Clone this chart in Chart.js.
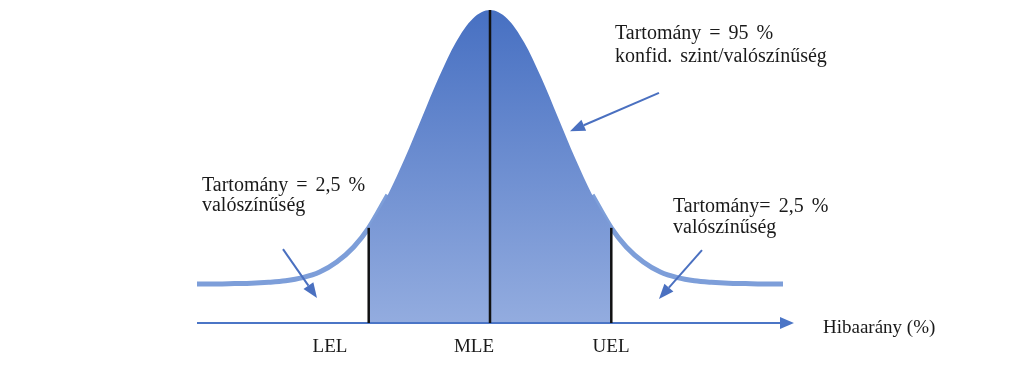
<!DOCTYPE html>
<html>
<head>
<meta charset="utf-8">
<script src="https://cdn.jsdelivr.net/npm/chart.js@4/dist/chart.umd.min.js"></script>
<style>
  html, body { margin: 0; padding: 0; background: #fff; }
  #wrap { width: 1024px; height: 377px; position: relative; }
</style>
</head>
<body>
<div id="wrap"><canvas id="c"></canvas></div>
<script>
// curve (x in sigma units, y in % of peak height above baseline)
var curveX = [-4.3, -4.0, -3.75, -3.5, -3.25, -3.0, -2.75, -2.5, -2.25, -2.0, -1.78, -1.5, -1.25, -1.0, -0.75, -0.5, -0.25, 0,
              0.25, 0.5, 0.75, 1.0, 1.25, 1.5, 1.78, 2.0, 2.25, 2.5, 2.75, 3.0, 3.25, 3.5, 3.75, 4.0, 4.3];
var curveY = [12.5, 12.5, 12.6, 12.7, 13.0, 13.5, 14.5, 16.3, 19.5, 24.3, 30.4, 40.9, 52.6, 65.6, 78.5, 89.7, 97.3, 100,
              97.3, 89.7, 78.5, 65.6, 52.6, 40.9, 30.4, 24.3, 19.5, 16.3, 14.5, 13.5, 13.0, 12.7, 12.6, 12.5, 12.5];

// limits
var limitNames = ['LEL', 'MLE', 'UEL'];
var limitX = [-1.78, 0, 1.78];
var limitTop = [30.4, 100, 30.4];
var axisTitle = 'Hibaarány (%)';

var notes = [
  ['Tartomány = 95 %', 'konfid. szint/valószínűség'],
  ['Tartomány = 2,5 %', 'valószínűség'],
  ['Tartomány= 2,5 %', 'valószínűség']
];

function pts(lo, hi) {
  var out = [];
  for (var i = 0; i < curveX.length; i++) {
    if (curveX[i] >= lo - 1e-9 && curveX[i] <= hi + 1e-9) out.push({ x: curveX[i], y: curveY[i] });
  }
  return out;
}

var X_MIN = -4.3, X_MAX = 4.3;
var datasets = [];

// vertical limit lines
limitX.forEach(function(lx, i) {
  datasets.push({ data: [{ x: lx, y: 0 }, { x: lx, y: limitTop[i] }], borderColor: '#111', borderWidth: 2.5,
    pointRadius: 0, fill: false, order: 0, clip: false });
});
// baseline
datasets.push({ data: [{ x: X_MIN, y: 0 }, { x: X_MAX, y: 0 }], borderColor: '#4b75c6', borderWidth: 2,
  pointRadius: 0, fill: false, order: 1, clip: false });
// 95% area (drawn over the tails)
datasets.push({ data: pts(limitX[0], limitX[2]), borderWidth: 0, borderColor: 'rgba(0,0,0,0)', pointRadius: 0,
  cubicInterpolationMode: 'monotone', order: 2, clip: false, fill: 'origin',
  backgroundColor: function(ctx) {
    var ca = ctx.chart.chartArea;
    if (!ca) return '#6f93d3';
    var g = ctx.chart.ctx.createLinearGradient(0, ca.top, 0, ca.bottom);
    g.addColorStop(0, '#4770c2');
    g.addColorStop(1, '#93acdf');
    return g;
  } });
// tails
datasets.push({ data: pts(X_MIN, -1.5), borderColor: '#7d9ed9', borderWidth: 5, pointRadius: 0, fill: false,
  cubicInterpolationMode: 'monotone', order: 3, clip: false });
datasets.push({ data: pts(1.5, X_MAX), borderColor: '#7d9ed9', borderWidth: 5, pointRadius: 0, fill: false,
  cubicInterpolationMode: 'monotone', order: 3, clip: false });

function arrow(ctx, x1, y1, x2, y2, head, half, color, w) {
  var a = Math.atan2(y2 - y1, x2 - x1);
  var bx = x2 - head * Math.cos(a), by = y2 - head * Math.sin(a);
  ctx.strokeStyle = color; ctx.fillStyle = color; ctx.lineWidth = w;
  ctx.beginPath(); ctx.moveTo(x1, y1); ctx.lineTo(bx, by); ctx.stroke();
  ctx.beginPath();
  ctx.moveTo(x2, y2);
  ctx.lineTo(bx + half * Math.sin(a), by - half * Math.cos(a));
  ctx.lineTo(bx - half * Math.sin(a), by + half * Math.cos(a));
  ctx.closePath(); ctx.fill();
}

var annot = {
  id: 'annot',
  afterDraw: function(chart) {
    var ctx = chart.ctx, xs = chart.scales.x, ys = chart.scales.y;
    var X = function(v) { return xs.getPixelForValue(v); };
    var Y = function(v) { return ys.getPixelForValue(v); };
    ctx.save();
    // axis arrowhead
    arrow(ctx, X(X_MAX) - 4, Y(0), X(4.461), Y(0), 14, 6, '#4b75c6', 2);
    // pointer arrows
    arrow(ctx, X(2.48), Y(73.5), X(1.174), Y(61.3), 15, 6, '#4a70c0', 2);
    arrow(ctx, X(-3.038), Y(23.6), X(-2.539), Y(8.0), 15, 6, '#4a70c0', 2);
    arrow(ctx, X(3.111), Y(23.3), X(2.48), Y(7.7), 15, 6, '#4a70c0', 2);

    ctx.fillStyle = '#1a1a1a';
    ctx.textBaseline = 'alphabetic';
    ctx.font = '20px "Liberation Serif", serif';
    try { ctx.wordSpacing = '3px'; } catch (e) {}
    ctx.textAlign = 'left';
    var pos = [[1.834, 90.7, 83.4], [-4.227, 42.2, 35.8], [2.686, 35.5, 28.8]];
    notes.forEach(function(n, i) {
      ctx.fillText(n[0], X(pos[i][0]), Y(pos[i][1]));
      ctx.fillText(n[1], X(pos[i][0]), Y(pos[i][2]));
    });
    try { ctx.wordSpacing = '0px'; } catch (e) {}
    ctx.font = '19px "Liberation Serif", serif';
    ctx.textAlign = 'center';
    var labX = [-2.348, -0.235, 1.776];
    limitNames.forEach(function(n, i) { ctx.fillText(n, X(labX[i]), Y(-9.3)); });
    ctx.textAlign = 'left';
    ctx.fillText(axisTitle, X(4.887), Y(-3.2));
    ctx.restore();
  }
};

new Chart(document.getElementById('c'), {
  type: 'line',
  data: { datasets: datasets },
  options: {
    responsive: true,
    maintainAspectRatio: false,
    animation: false,
    devicePixelRatio: 1,
    layout: { padding: { left: 197, right: 241, top: 10, bottom: 54 } },
    plugins: { legend: { display: false }, tooltip: { enabled: false } },
    scales: {
      x: { type: 'linear', min: X_MIN, max: X_MAX, display: false },
      y: { min: 0, max: 100, display: false }
    }
  },
  plugins: [annot]
});
</script>
</body>
</html>
